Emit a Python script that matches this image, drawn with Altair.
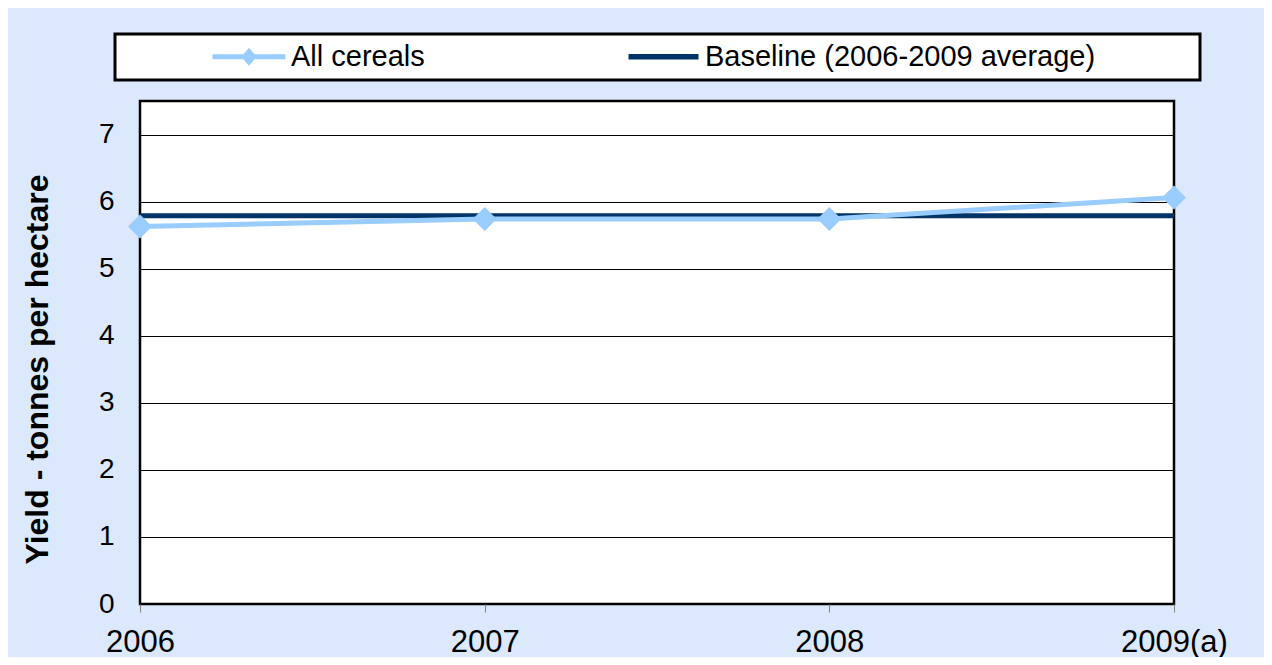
import altair as alt
import pandas as pd

years = ["2006", "2007", "2008", "2009(a)"]
cereals = [5.63, 5.74, 5.74, 6.06]
baseline = [5.79, 5.79, 5.79, 5.79]
series = ["All cereals", "Baseline (2006-2009 average)"]
colors = ["#99ccff", "#003366"]
y_ticks = [0, 1, 2, 3, 4, 5, 6, 7]

rows = []
for yr, v in zip(years, cereals):
    rows.append({"year": yr, "value": v, "series": series[0]})
for yr, v in zip(years, baseline):
    rows.append({"year": yr, "value": v, "series": series[1]})
df = pd.DataFrame(rows)

FONT = "Liberation Sans"
# invisible trailing room so the legend frame reaches the reference width
PAD_TXT = "\u00a0" * 12 + "\u200b"

# legend symbols: line segment (+ diamond for the cereals series)
sym_cereal = ("M6.25,-0.21L12.33,-0.21L12.33,0.21L6.25,0.21Z"
              "M9.29,-0.75L9.94,0L9.29,0.75L8.64,0Z")
sym_base = "M6.42,-0.22L12.25,-0.22L12.25,0.22L6.42,0.22Z"

x_enc = alt.X(
    "year:O",
    scale=alt.Scale(type="point", padding=0, domain=years),
    axis=alt.Axis(
        labelFont=FONT, labelFontSize=31, labelColor="black", labelAngle=0,
        labelPadding=15, tickSize=8, tickColor="#808080", tickWidth=1,
        domain=False, grid=False,
    ),
    title=None,
)
y_enc = alt.Y(
    "value:Q",
    scale=alt.Scale(domain=[0, 7.5], nice=False, zero=True),
    axis=alt.Axis(
        values=y_ticks, labelFont=FONT, labelFontSize=28, labelColor="black",
        labelPadding=26, ticks=False, tickSize=0, domain=False,
        grid=True, gridColor="#000000", gridWidth=1,
        titleFont=FONT, titleFontSize=32, titleFontWeight="bold", titleColor="black",
        titleX=-103, titleY=268, titleAlign="center", titleBaseline="middle",
    ),
    title="Yield - tonnes per hectare",
)
color_scale = alt.Scale(domain=series, range=colors)

legend_def = alt.Legend(
    title=None, orient="none", legendX=-25, legendY=-67, direction="horizontal",
    labelExpr="datum.label == 'Baseline (2006-2009 average)' ? datum.label + '" + PAD_TXT + "' : datum.label",
)

base = alt.Chart(df)

base_line = base.transform_filter(alt.datum.series == series[1]).mark_line(strokeWidth=5).encode(
    x=x_enc, y=y_enc, color=alt.Color("series:N", scale=color_scale, legend=None)
)
cereal_line = base.transform_filter(alt.datum.series == series[0]).mark_line(strokeWidth=5).encode(
    x=x_enc, y=y_enc, color=alt.Color("series:N", scale=color_scale, legend=None)
)
points = base.transform_filter(alt.datum.series == series[0]).mark_point(
    filled=True, shape="diamond", size=576, opacity=1
).encode(x=x_enc, y=y_enc, color=alt.Color("series:N", scale=color_scale, legend=None))

legend_layer = base.mark_point(filled=True).encode(
    x=x_enc, y=y_enc,
    opacity=alt.value(0),
    color=alt.Color("series:N", scale=color_scale, legend=legend_def),
    shape=alt.Shape("series:N", scale=alt.Scale(domain=series, range=[sym_cereal, sym_base]), legend=legend_def),
)

chart = alt.layer(legend_layer, base_line, cereal_line, points).resolve_legend(
    color="independent", shape="independent"
).properties(
    width=1034, height=503, autosize="none",
    padding={"left": 132, "top": 93, "right": 90, "bottom": 53},
    background="#dce9fc",
).configure_view(
    stroke="black", strokeWidth=2.5, fill="white"
).configure_legend(
    fillColor="white", strokeColor="black", strokeWidth=3, padding=8,
    labelFont=FONT, labelFontSize=29, labelColor="black", labelLimit=1000,
    symbolSize=576, symbolStrokeWidth=0, symbolOffset=0, labelOffset=139,
    columnPadding=112, symbolOpacity=1,
)

chart.save("out.html", embed_options={"renderer": "svg", "actions": False})
